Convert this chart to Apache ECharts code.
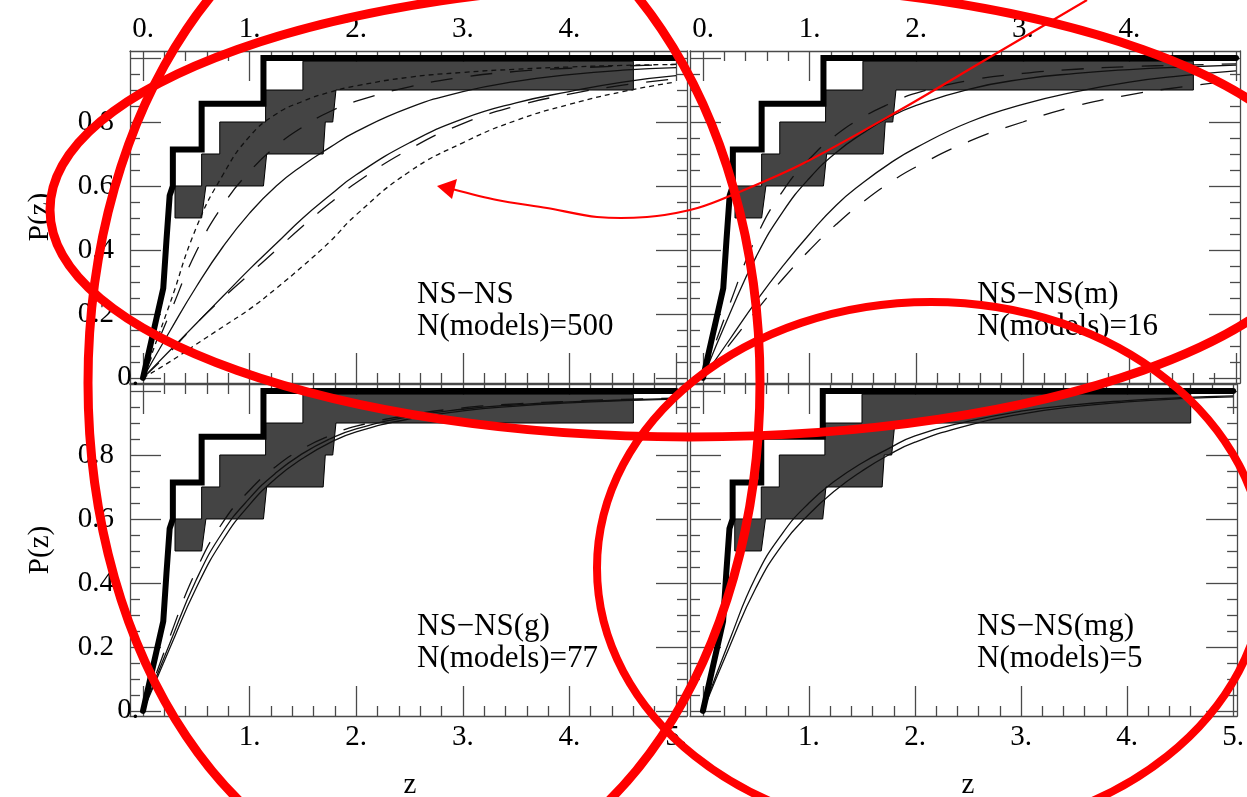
<!DOCTYPE html>
<html><head><meta charset="utf-8">
<script src="https://cdn.jsdelivr.net/npm/echarts@6/dist/echarts.min.js"></script>
<style>html,body{margin:0;padding:0;background:#fff}#c{width:1247px;height:797px}</style>
</head><body><div id="c"></div>
<script>
// ---------------- DATA ----------------
const xMajorTicks = [0, 1, 2, 3, 4, 5];
const xMinorTicks = [0.2,0.4,0.6,0.8,1.2,1.4,1.6,1.8,2.2,2.4,2.6,2.8,3.2,3.4,3.6,3.8,4.2,4.4,4.6,4.8];
const yMajorTicks = [0, 0.2, 0.4, 0.6, 0.8, 1.0];
const yMinorTicks = [0.05,0.1,0.15,0.25,0.3,0.35,0.45,0.5,0.55,0.65,0.7,0.75,0.85,0.9,0.95];
const xLabelsTop = [0, 1, 2, 3, 4];
const xLabelsBottom = [1, 2, 3, 4, 5];
const yLabels = [0.2, 0.4, 0.6, 0.8];
const yZeroLabel = [0];

const panelTitles = ['NS\u2212NS', 'NS\u2212NS(m)', 'NS\u2212NS(g)', 'NS\u2212NS(mg)'];
const panelModels = ['N(models)=500', 'N(models)=16', 'N(models)=77', 'N(models)=5'];

// observed cumulative distribution (thick step line), same in all panels
const observedCDF = [[0,0],[0.19,0.28],[0.22,0.43],[0.25,0.57],[0.28,0.6],[0.28,0.714],[0.55,0.714],[0.55,0.857],[1.13,0.857],[1.13,1.0],[5.0,1.0]];

// shaded confidence band (polygon outline: upper edge then lower edge reversed)
const bandPolygon = [[0.30,0.50],[0.30,0.60],[0.55,0.60],[0.55,0.70],[0.72,0.70],[0.72,0.80],[1.15,0.80],[1.15,0.90],[1.50,0.90],[1.50,0.99],[4.60,0.99],[4.60,0.90],[1.81,0.90],[1.78,0.80],[1.71,0.80],[1.69,0.70],[1.16,0.70],[1.13,0.60],[0.59,0.60],[0.55,0.50]];

// model curves: z sample points and P(z) values read at them
const zs = [0, 0.25, 0.5, 0.75, 1.0, 1.25, 1.5, 1.75, 2.0, 2.5, 3.0, 3.5, 4.0, 4.5, 5.0];
// Panel 1: NS-NS
const p1Dot1  = [0, 0.23, 0.47, 0.635, 0.755, 0.825, 0.865, 0.893, 0.913, 0.94, 0.955, 0.965, 0.972, 0.977, 0.98];
const p1Dash1 = [0, 0.20, 0.395, 0.54, 0.645, 0.725, 0.785, 0.832, 0.865, 0.91, 0.94, 0.958, 0.968, 0.975, 0.98];
const p1Sol1  = [0, 0.145, 0.285, 0.41, 0.515, 0.60, 0.665, 0.72, 0.77, 0.845, 0.895, 0.927, 0.948, 0.962, 0.97];
const p1Sol2  = [0, 0.085, 0.17, 0.255, 0.34, 0.42, 0.50, 0.57, 0.635, 0.735, 0.81, 0.86, 0.895, 0.925, 0.945];
const p1Dash2 = [0, 0.08, 0.17, 0.25, 0.325, 0.40, 0.475, 0.545, 0.61, 0.715, 0.795, 0.85, 0.887, 0.915, 0.935];
const p1Dot2  = [0, 0.05, 0.105, 0.16, 0.215, 0.28, 0.35, 0.425, 0.51, 0.645, 0.735, 0.805, 0.855, 0.895, 0.925];
// Panel 2: NS-NS(m)
const p2Dash1 = [0, 0.23, 0.44, 0.585, 0.685, 0.76, 0.815, 0.857, 0.89, 0.93, 0.952, 0.965, 0.973, 0.978, 0.982];
const p2Sol1  = [0, 0.20, 0.38, 0.52, 0.625, 0.705, 0.765, 0.815, 0.852, 0.903, 0.934, 0.952, 0.964, 0.972, 0.978];
const p2Sol2  = [0, 0.12, 0.24, 0.35, 0.45, 0.54, 0.61, 0.67, 0.72, 0.80, 0.855, 0.895, 0.925, 0.945, 0.96];
const p2Dash2 = [0, 0.105, 0.21, 0.31, 0.40, 0.48, 0.55, 0.61, 0.66, 0.74, 0.80, 0.85, 0.885, 0.91, 0.93];
// Panel 3: NS-NS(g)
const p3Dash1 = [0, 0.23, 0.44, 0.59, 0.69, 0.765, 0.82, 0.86, 0.89, 0.925, 0.947, 0.96, 0.968, 0.974, 0.978];
const p3Sol1  = [0, 0.21, 0.41, 0.56, 0.665, 0.745, 0.805, 0.85, 0.882, 0.92, 0.943, 0.957, 0.966, 0.972, 0.977];
const p3Sol2  = [0, 0.195, 0.385, 0.535, 0.645, 0.728, 0.79, 0.838, 0.872, 0.913, 0.938, 0.953, 0.963, 0.97, 0.975];
// Panel 4: NS-NS(mg)
const p4Sol1  = [0, 0.22, 0.42, 0.555, 0.65, 0.72, 0.775, 0.82, 0.86, 0.905, 0.937, 0.957, 0.97, 0.979, 0.985];
const p4Sol2  = [0, 0.20, 0.385, 0.52, 0.615, 0.69, 0.75, 0.80, 0.84, 0.893, 0.928, 0.951, 0.966, 0.976, 0.982];

const panelCurves = [
  [[p1Dot1,'dot'],[p1Dash1,'dash'],[p1Sol1,'solid'],[p1Sol2,'solid'],[p1Dash2,'dash'],[p1Dot2,'dot']],
  [[p2Dash1,'dash'],[p2Sol1,'solid'],[p2Sol2,'solid'],[p2Dash2,'dash']],
  [[p3Dash1,'dash'],[p3Sol1,'solid'],[p3Sol2,'solid']],
  [[p4Sol1,'solid'],[p4Sol2,'solid']]
];

// ---------------- LAYOUT ----------------
const FONT = 'Liberation Serif';
const grids = [
  {left:130, top:51,  width:557, height:332},
  {left:690, top:51,  width:550, height:332},
  {left:130, top:384, width:557, height:332},
  {left:690, top:384, width:550, height:332}
];
const PX_PER_UNIT = 106.6;
const X_MIN = -0.122;
const Y_MIN = -0.016, Y_MAX = 1.022;
const AX = '#4a4a4a';

function xAxisDef(g, pos, major, labelVals) {
  const xmax = X_MIN + grids[g].width / PX_PER_UNIT;
  return {
    type:'value', gridIndex:g, position:pos, min:X_MIN, max:xmax,
    axisLine:{show:major, onZero:false, lineStyle:{color:AX, width:1.3}},
    axisTick:{show:true, inside:true, length: major?30:10, customValues: major?xMajorTicks:xMinorTicks, lineStyle:{color:AX, width:1.3}},
    axisLabel:{show: !!labelVals, customValues: labelVals || [], margin:7, fontFamily:FONT, fontSize:29, color:'#000',
      formatter: v => String(Math.round(v)) + '.'},
    splitLine:{show:false}
  };
}
function yAxisDef(g, pos, major, labelVals, margin) {
  return {
    type:'value', gridIndex:g, position:pos, min:Y_MIN, max:Y_MAX,
    axisLine:{show:major, onZero:false, lineStyle:{color:AX, width:1.3}},
    axisTick:{show:true, inside:true, length: major?31:10, customValues: major?yMajorTicks:yMinorTicks, lineStyle:{color:AX, width:1.3}},
    axisLabel:{show: !!labelVals, customValues: labelVals || [], margin: margin, fontFamily:FONT, fontSize:29, color:'#000',
      formatter: v => v === 0 ? '0.' : v.toFixed(1)},
    splitLine:{show:false}
  };
}

const xAxes = [], yAxes = [], series = [];
for (let g = 0; g < 4; g++) {
  const isTop = g < 2, isLeft = (g % 2) === 0;
  xAxes.push(xAxisDef(g, 'bottom', true, isTop ? null : xLabelsBottom));
  xAxes.push(xAxisDef(g, 'bottom', false, null));
  xAxes.push(xAxisDef(g, 'top', true, isTop ? xLabelsTop : null));
  xAxes.push(xAxisDef(g, 'top', false, null));
  yAxes.push(yAxisDef(g, 'left', true, isLeft ? yLabels : null, 16));
  yAxes.push(yAxisDef(g, 'left', false, isLeft ? yZeroLabel : null, -9));
  yAxes.push(yAxisDef(g, 'right', true, null, 8));
  yAxes.push(yAxisDef(g, 'right', false, null, 8));
  const xi = g * 4, yi = g * 4;
  series.push({
    type:'custom', xAxisIndex:xi, yAxisIndex:yi, data:[[0,0]], silent:true, z:1,
    renderItem: (params, api) => ({
      type:'polygon',
      shape:{points: bandPolygon.map(p => api.coord(p))},
      style:{fill:'#444444', stroke:'#000', lineWidth:1}
    })
  });
  panelCurves[g].forEach(([vals, style]) => {
    series.push({
      type:'line', xAxisIndex:xi, yAxisIndex:yi, data: zs.map((z, i) => [z, vals[i]]),
      showSymbol:false, silent:true, z:2, smooth:0.5,
      lineStyle:{color:'#111', width:1.3, type: style === 'dot' ? [5,4] : style === 'dash' ? [22,18] : 'solid'}
    });
  });
  series.push({
    type:'line', xAxisIndex:xi, yAxisIndex:yi, data:observedCDF, showSymbol:false, silent:true, z:3,
    lineStyle:{color:'#000', width:6, cap:'round', join:'miter'}
  });
}

// ---------------- TEXT & ANNOTATIONS ----------------
const graphic = [];
const textX = [417, 977, 417, 977];
const textY = [295, 295, 627, 627];
for (let g = 0; g < 4; g++) {
  graphic.push({type:'text', x:textX[g], y:textY[g], z:50, style:{text:panelTitles[g], font:'31px "Liberation Serif"', fill:'#000', textVerticalAlign:'middle'}});
  graphic.push({type:'text', x:textX[g], y:textY[g]+32, z:50, style:{text:panelModels[g], font:'31px "Liberation Serif"', fill:'#000', textVerticalAlign:'middle'}});
}
graphic.push({type:'text', x:40, y:217, rotation:Math.PI/2, z:50, style:{text:'P(z)', font:'29px "Liberation Serif"', fill:'#000', textAlign:'center', textVerticalAlign:'middle'}});
graphic.push({type:'text', x:40, y:550, rotation:Math.PI/2, z:50, style:{text:'P(z)', font:'29px "Liberation Serif"', fill:'#000', textAlign:'center', textVerticalAlign:'middle'}});
graphic.push({type:'text', x:410, y:785, z:50, style:{text:'z', font:'29px "Liberation Serif"', fill:'#000', textAlign:'center', textVerticalAlign:'middle'}});
graphic.push({type:'text', x:968, y:785, z:50, style:{text:'z', font:'29px "Liberation Serif"', fill:'#000', textAlign:'center', textVerticalAlign:'middle'}});

// red hand-drawn annotations
const RED = '#ff0000';
graphic.push({type:'ellipse', z:100, shape:{cx:690, cy:210, rx:640, ry:227}, style:{fill:'transparent', stroke:RED, lineWidth:9}});
graphic.push({type:'ellipse', z:100, shape:{cx:424, cy:383, rx:336, ry:500}, style:{fill:'transparent', stroke:RED, lineWidth:9}});
graphic.push({type:'ellipse', z:100, shape:{cx:931, cy:568, rx:334, ry:266}, style:{fill:'transparent', stroke:RED, lineWidth:8}});
graphic.push({type:'polyline', z:100, shape:{points:[[1087,0],[980,63],[900,110],[800,165],[720,200],[690,210],[647,217],[597,217],[547,208],[497,200],[452,189]], smooth:0.3}, style:{fill:null, stroke:RED, lineWidth:2.2}});
graphic.push({type:'polygon', z:100, shape:{points:[[437,186],[457,179],[452,199]]}, style:{fill:RED}});

const chart = echarts.init(document.getElementById('c'), null, {renderer:'canvas'});
chart.setOption({
  animation:false,
  backgroundColor:'#fff',
  grid: grids.map(g => Object.assign({containLabel:false}, g)),
  xAxis: xAxes,
  yAxis: yAxes,
  series,
  graphic
});
</script></body></html>
